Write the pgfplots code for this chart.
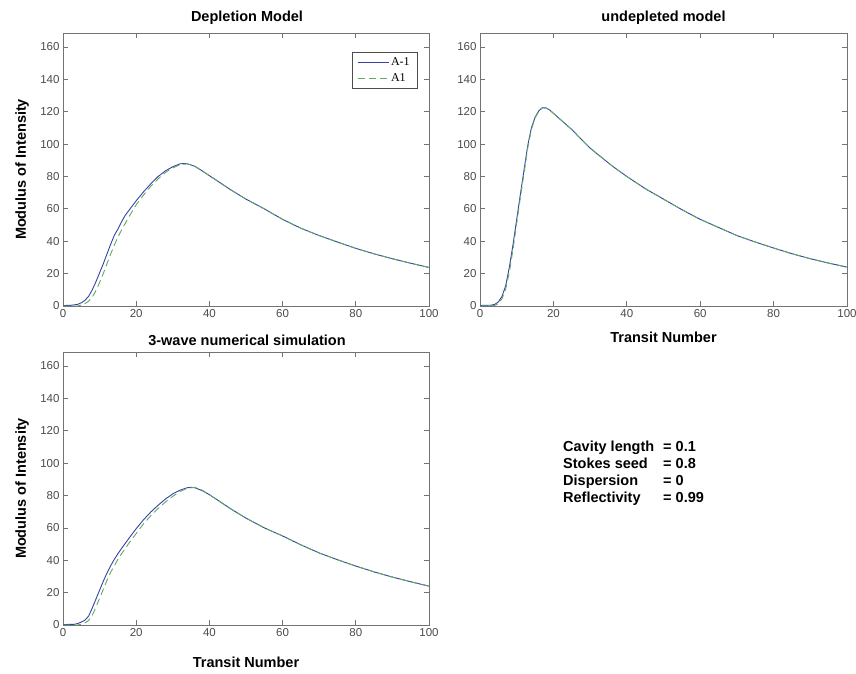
\documentclass[border=0pt]{standalone}
\usepackage{pgfplots}
\pgfplotsset{compat=1.18}
\usepackage{fontspec}
\setmainfont{Liberation Sans}
\newfontfamily\legfont{Liberation Serif}

\definecolor{lineA}{RGB}{55,65,165}
\definecolor{lineB}{RGB}{95,170,95}
\definecolor{axgray}{RGB}{115,115,115}
\definecolor{tickgray}{RGB}{75,75,75}

\pgfplotsset{
  myax/.style={
    scale only axis, width=366pt, height=273pt,
    xmin=0, xmax=100, ymin=0, ymax=168.6,
    xtick={0,20,...,100}, ytick={0,20,...,160},
    tick align=inside, tick pos=both, major tick length=5pt,
    axis line style={axgray, line width=0.9pt},
    tick style={axgray, line width=0.7pt},
    tick label style={font=\fontsize{11.5}{13}\selectfont, text=tickgray},
    /pgf/number format/assume math mode=true,
    label style={font=\fontsize{14.5}{16}\selectfont\bfseries, inner sep=0pt},
    ylabel style={at={(axis description cs:-0.112,0.5)}, anchor=center},
    clip=true,
  },
  solidA/.style={lineA, line width=0.9pt},
  dashB/.style={lineB, line width=0.9pt, dash pattern=on 7pt off 4pt},
}
\tikzset{ttl/.style={anchor=base, inner sep=0pt, font=\fontsize{14.5}{16}\selectfont\bfseries}}

\begin{document}
\begin{tikzpicture}
\useasboundingbox (0pt,0pt) rectangle (856pt,673pt);

% ---------------- Depletion Model ----------------
\begin{axis}[myax, at={(63pt,367pt)}, anchor=south west,
  ylabel={Modulus of Intensity},
  legend style={at={(0.967,0.930)}, anchor=north east, draw=black!70,
    font=\legfont\fontsize{12}{13}\selectfont, inner xsep=5pt, inner ysep=3pt, row sep=3pt,
    legend cell align=left},
  legend image code/.code={\draw[#1] (0pt,0pt) -- (31pt,0pt);},
]
\addplot[solidA] coordinates {
(0,0.3) (2,0.4) (4,1) (5,2) (6,3.5) (7,6) (8,10) (9,15) (10,20.5) (11,26) (12,32) (13,38) (14,43.5) (15,47.5) (16,52) (17,56) (18,59) (20,65) (22,70.5) (24,75.5) (26,80) (28,83.5) (30,86) (32,87.8) (33,88) (34,87.8) (36,86.3) (38,83.5) (40,80.5) (43,76) (46,71.5) (50,66) (55,60) (60,53.5) (65,48) (70,43.5) (75,39.5) (80,35.6) (85,32.2) (90,29.2) (95,26.4) (100,23.8)
};
\addlegendentry{A-1}
\addplot[dashB] coordinates {
(0,0) (4,0) (5,0.6) (6,1.5) (7,3) (8,5.5) (9,9.5) (10,14.5) (11,20) (12,26) (13,32) (14,37.5) (15,42.5) (16,47) (17,51) (18,55) (20,62.5) (22,68.5) (24,74) (26,78.5) (28,82.5) (30,85.3) (32,87.3) (34,87.8) (36,86.3) (38,83.5) (40,80.5) (43,76) (46,71.5) (50,66) (55,60) (60,53.5) (65,48) (70,43.5) (75,39.5) (80,35.6) (85,32.2) (90,29.2) (95,26.4) (100,23.8)
};
\addlegendentry{A1}
\end{axis}

% ---------------- undepleted model ----------------
\begin{axis}[myax, at={(480pt,367pt)}, anchor=south west, width=367pt,
  xlabel={Transit Number},
  xlabel style={at={(axis description cs:0.5,-0.114)}, anchor=center},
]
\addplot[solidA] coordinates {
(0,0.3) (3,0.5) (4,1) (5,2.5) (6,6) (7,12.5) (8,24) (9,38) (10,53.5) (11,69) (12,84) (13,99) (14,110) (15,116.5) (16,120.5) (17,122.5) (18,122.3) (19,121) (20,119) (22,115) (25,109) (28,102) (30,97.5) (33,92) (36,86.5) (40,80) (45,72.5) (50,66) (55,59.5) (60,53.5) (65,48.5) (70,43.5) (75,39.5) (80,35.8) (85,32.3) (90,29.2) (95,26.5) (100,24)
};
\addplot[dashB] coordinates {
(0,0) (4,0.3) (5,1.5) (6,4.5) (7,10.5) (8,21) (9,35) (10,51) (11,67) (12,82) (13,97.5) (14,109) (15,116) (16,120.3) (17,122.4) (18,122.3) (19,121) (20,119) (22,115) (25,109) (28,102) (30,97.5) (33,92) (36,86.5) (40,80) (45,72.5) (50,66) (55,59.5) (60,53.5) (65,48.5) (70,43.5) (75,39.5) (80,35.8) (85,32.3) (90,29.2) (95,26.5) (100,24)
};
\end{axis}

% ---------------- 3-wave numerical simulation ----------------
\begin{axis}[myax, at={(63pt,48pt)}, anchor=south west,
  ylabel={Modulus of Intensity},
  xlabel={Transit Number},
  xlabel style={at={(axis description cs:0.5,-0.1355)}, anchor=center},
]
\addplot[solidA] coordinates {
(0,0.3) (3,0.4) (4,0.9) (5,1.8) (6,3) (7,5.5) (8,10.5) (9,16) (10,21.5) (11,27) (12,32) (13,36.5) (14,40.5) (15,44) (16,47.3) (18,53.5) (20,59.5) (22,65) (24,69.8) (26,74) (28,77.8) (30,81) (32,83.3) (34,84.8) (35,85) (36,84.8) (38,83) (40,80.5) (43,76) (46,71.5) (50,66) (55,60) (60,55) (65,49.5) (70,44.5) (75,40.3) (80,36.4) (85,32.8) (90,29.6) (95,26.7) (100,24)
};
\addplot[dashB] coordinates {
(0,0) (4,0) (5,0.5) (6,1.3) (7,2.8) (8,6) (9,11) (10,16.5) (11,22) (12,27.5) (13,32.5) (14,36.5) (15,40.5) (16,44) (18,50.5) (20,56.5) (22,62.5) (24,67.5) (26,72) (28,76) (30,79.5) (32,82.5) (34,84.5) (36,85) (38,83.3) (40,80.5) (43,76) (46,71.5) (50,66) (55,60) (60,55) (65,49.5) (70,44.5) (75,40.3) (80,36.4) (85,32.8) (90,29.6) (95,26.7) (100,24)
};
\end{axis}

% ---------------- titles ----------------
\node[ttl] at (247pt,651.5pt) {Depletion Model};
\node[ttl] at (663.5pt,651.5pt) {undepleted model};
\node[ttl] at (247pt,328pt) {3-wave numerical simulation};

% ---------------- parameter text ----------------
\node[anchor=west, inner sep=0pt, font=\fontsize{14.5}{17}\selectfont\bfseries] at (563pt,199pt)
{\begin{tabular}{@{}l@{\hspace{9pt}}l@{}}
Cavity length & = 0.1\\
Stokes seed & = 0.8\\
Dispersion & = 0\\
Reflectivity & = 0.99
\end{tabular}};
\end{tikzpicture}
\end{document}
